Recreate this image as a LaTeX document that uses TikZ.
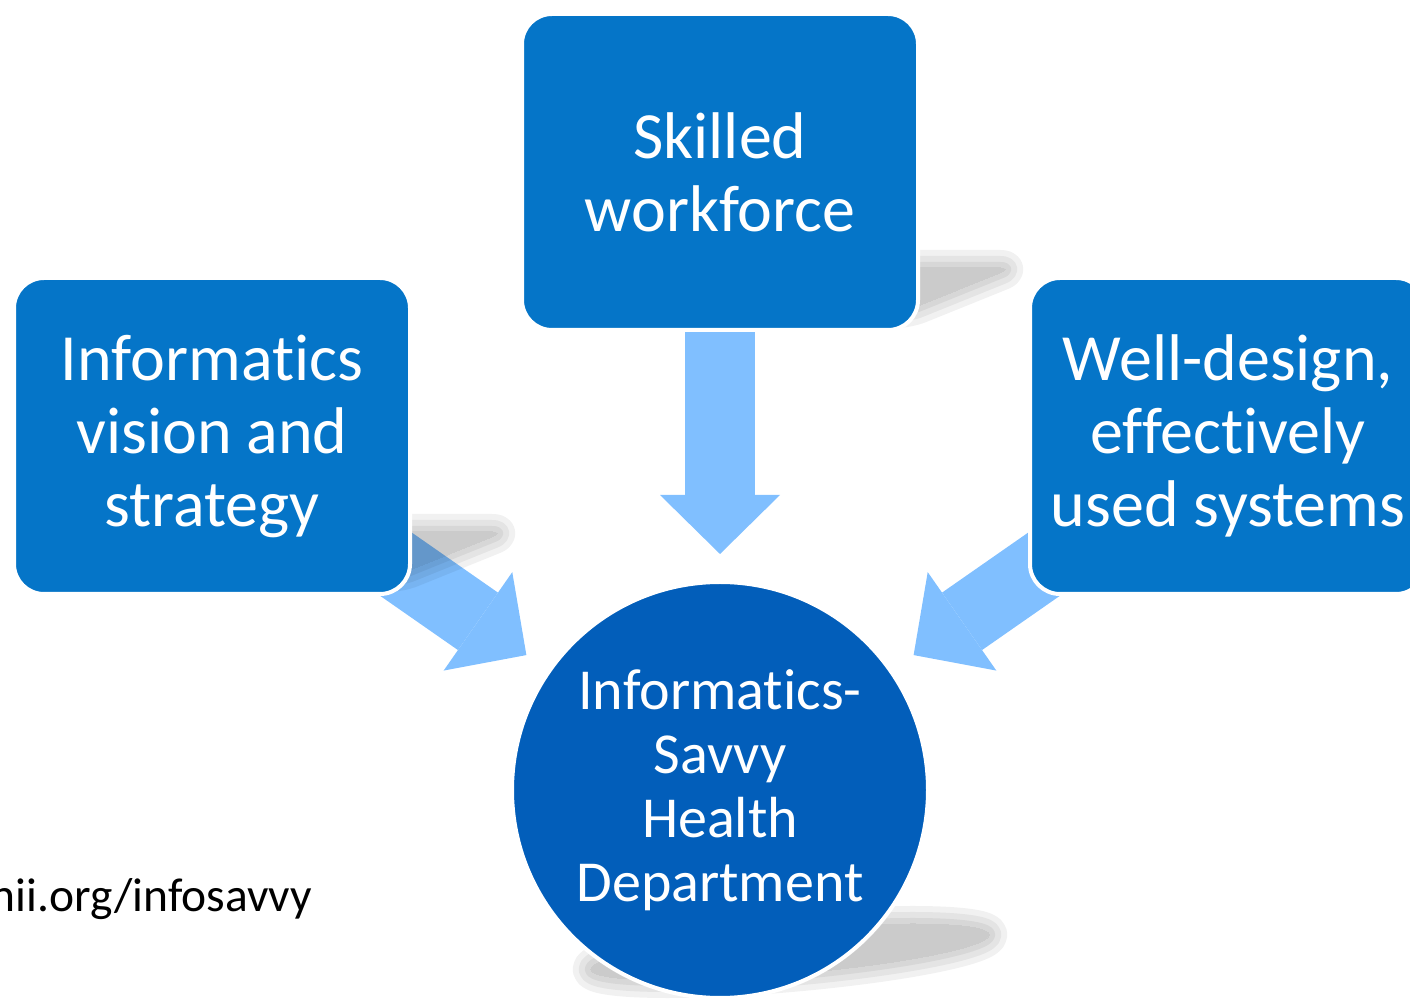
\documentclass[tikz,border=0pt]{standalone}
\usepackage{fontspec}
\setmainfont{Carlito}[Ligatures=NoCommon]
\usepackage{xcolor}
\usepackage{tikz}
\usetikzlibrary{arrows.meta, calc, backgrounds}
\definecolor{boxblue}{RGB}{5,117,200}
\definecolor{hubblue}{RGB}{2,94,186}
\definecolor{flowblue}{RGB}{128,191,255}

\begin{document}
\begin{tikzpicture}[x=0.5pt, y=-0.5pt,
    pillar/.style={rectangle, rounded corners=15pt, fill=boxblue, draw=white, line width=2pt, minimum width=198pt, minimum height=158pt, text=white, align=center, font=\fontsize{33pt}{36.5pt}\selectfont},
    hub/.style={circle, fill=hubblue, draw=white, line width=2pt, minimum size=208pt, inner sep=0pt, text=white, align=center, font=\fontsize{29pt}{32pt}\selectfont},
    flow/.style={draw=flowblue, line width=35pt, shorten >=13pt, -{Triangle[width=60pt, length=29.5pt, line width=0pt]}},
    shade/.style={fill=black, draw=black, line join=round, rounded corners=6pt}
]
    \useasboundingbox (0,0) rectangle (1410,999);
    \clip (0,0) rectangle (1410,999);

    \node[pillar] (skill) at (720,172) {Skilled\\workforce};
    \node[pillar] (vision) at (212,436) {Informatics\\vision and\\strategy};
    \node[pillar] (systems) at (1228,436) {Well-design,\\effectively\\used systems};
    \node[hub] (dept) at (720,790) {Informatics-\\Savvy\\Health\\Department};

    \node[anchor=base west, inner sep=0pt, font=\fontsize{23.75pt}{28pt}\selectfont] (url) at (-10,912) {hii.org/infosavvy};

    \begin{scope}[on background layer]
        \draw[flow] (skill.center) -- (dept);
        \draw[flow] (vision.center) -- (dept);
        \draw[flow] (systems.center) -- (dept);

        \foreach \w in {0,6,12,18} {
            \begin{scope}[transparency group, opacity=0.055]
                \path[shade, line width=\w pt] ($(skill.south west)+(24,-22)$) -- ($(skill.south east)+(-12,-22)$) -- ($(skill.south east)+(92,-64)$) -- ($(skill.south west)+(128,-64)$) -- cycle;
            \end{scope}
            \begin{scope}[transparency group, opacity=0.055]
                \path[shade, line width=\w pt] ($(vision.south west)+(24,-22)$) -- ($(vision.south east)+(-12,-22)$) -- ($(vision.south east)+(92,-64)$) -- ($(vision.south west)+(128,-64)$) -- cycle;
            \end{scope}
            \begin{scope}[transparency group, opacity=0.055]
                \path[shade, line width=\w pt, rotate around={5:(790,952)}] (790,952) ellipse [x radius=100pt, y radius=11pt];
            \end{scope}
        }
    \end{scope}
\end{tikzpicture}
\end{document}
